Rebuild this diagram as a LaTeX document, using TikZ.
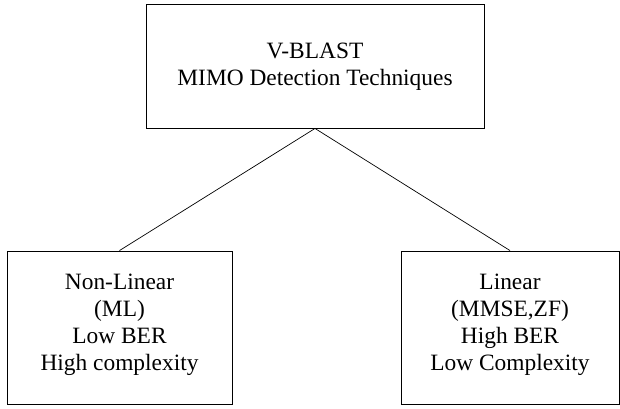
\documentclass[tikz,border=0pt]{standalone}
\usepackage{fontspec}
\setmainfont{Liberation Serif}
\begin{document}
\begin{tikzpicture}[x=1pt,y=1pt,
  box/.style={draw=black, line width=0.9pt, inner sep=0pt},
  txt/.style={align=center, inner sep=0pt, font=\fontsize{23.4}{27}\selectfont},
  conn/.style={draw=black, line width=0.7pt}]
\useasboundingbox (0,0) rectangle (620,-408);
\node[box, minimum width=338pt, minimum height=124pt] (top) at (315,-66) {};
\node[txt] (topText) at ([yshift=-1pt]top.center) {V-BLAST\\MIMO Detection Techniques};
\node[box, minimum width=225pt, minimum height=153pt] (left) at (119.5,-327.5) {};
\node[txt] (leftText) at ([yshift=3pt]left.center) {Non-Linear\\(ML)\\Low BER\\High complexity};
\node[box, minimum width=218pt, minimum height=153pt] (right) at (510,-327.5) {};
\node[txt] (rightText) at ([yshift=3pt]right.center) {Linear\\(MMSE,ZF)\\High BER\\Low Complexity};
\draw[conn] (top.south) -- (left.north);
\draw[conn] (top.south) -- (right.north);
\end{tikzpicture}
\end{document}
